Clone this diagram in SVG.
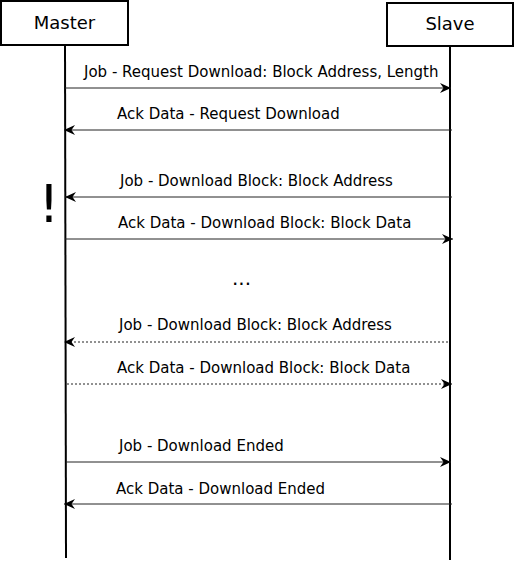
<svg xmlns="http://www.w3.org/2000/svg" width="514" height="561" viewBox="0 0 514 561">
<style>
.box{fill:#fff;stroke:#000;stroke-width:2}
.life{stroke:#000;stroke-width:2;fill:none}
.msg{stroke:#222;stroke-width:1;fill:none}
.dot{stroke-dasharray:2,2}
.t{font-family:"DejaVu Sans",sans-serif;font-size:15px;fill:#000}
.h{font-family:"DejaVu Sans",sans-serif;font-size:18px;fill:#000;text-anchor:middle}
</style>
<defs>
<marker id="ah" viewBox="0 0 11 10" refX="11" refY="5" markerWidth="11" markerHeight="10" markerUnits="userSpaceOnUse" orient="auto">
<path d="M0,0 L11,5 L0,10 L3.5,5 Z" fill="#000"/>
</marker>
</defs>
<g id="lifelines">
<line class="life" x1="65" y1="45" x2="66" y2="558"/>
<line class="life" x1="450" y1="46" x2="450" y2="560"/>
</g>
<g id="master">
<rect class="box" x="1" y="1" width="127" height="44"/>
<text class="h" x="64.5" y="29">Master</text>
</g>
<g id="slave">
<rect class="box" x="387" y="3" width="126" height="43"/>
<text class="h" x="450" y="30">Slave</text>
</g>
<g id="connectors">
<line class="msg" x1="65" y1="88" x2="451" y2="88" marker-end="url(#ah)"/>
<line class="msg" x1="452" y1="130" x2="64" y2="130" marker-end="url(#ah)"/>
<line class="msg" x1="452" y1="197" x2="65" y2="197" marker-end="url(#ah)"/>
<line class="msg" x1="65" y1="239" x2="453" y2="239" marker-end="url(#ah)"/>
<line class="msg dot" x1="448" y1="342" x2="64" y2="342" marker-end="url(#ah)"/>
<line class="msg dot" x1="67" y1="384" x2="452" y2="384" marker-end="url(#ah)"/>
<line class="msg" x1="66" y1="462" x2="451" y2="462" marker-end="url(#ah)"/>
<line class="msg" x1="452" y1="504" x2="64" y2="504" marker-end="url(#ah)"/>
</g>
<g id="labels">
<text class="t" x="84" y="77">Job - Request Download: Block Address, Length</text>
<text class="t" x="117" y="119">Ack Data - Request Download</text>
<text class="t" x="120" y="186">Job - Download Block: Block Address</text>
<text class="t" x="118" y="228">Ack Data - Download Block: Block Data</text>
<text class="t" x="119" y="330">Job - Download Block: Block Address</text>
<text class="t" x="117" y="373">Ack Data - Download Block: Block Data</text>
<text class="t" x="119" y="451">Job - Download Ended</text>
<text class="t" x="116" y="494">Ack Data - Download Ended</text>
<text x="241.5" y="285" style="font-family:'DejaVu Sans',sans-serif;font-size:20px;text-anchor:middle">...</text>
<text x="49" y="222" style="font-family:'DejaVu Sans',sans-serif;font-size:52px;text-anchor:middle">!</text>
</g>
</svg>
